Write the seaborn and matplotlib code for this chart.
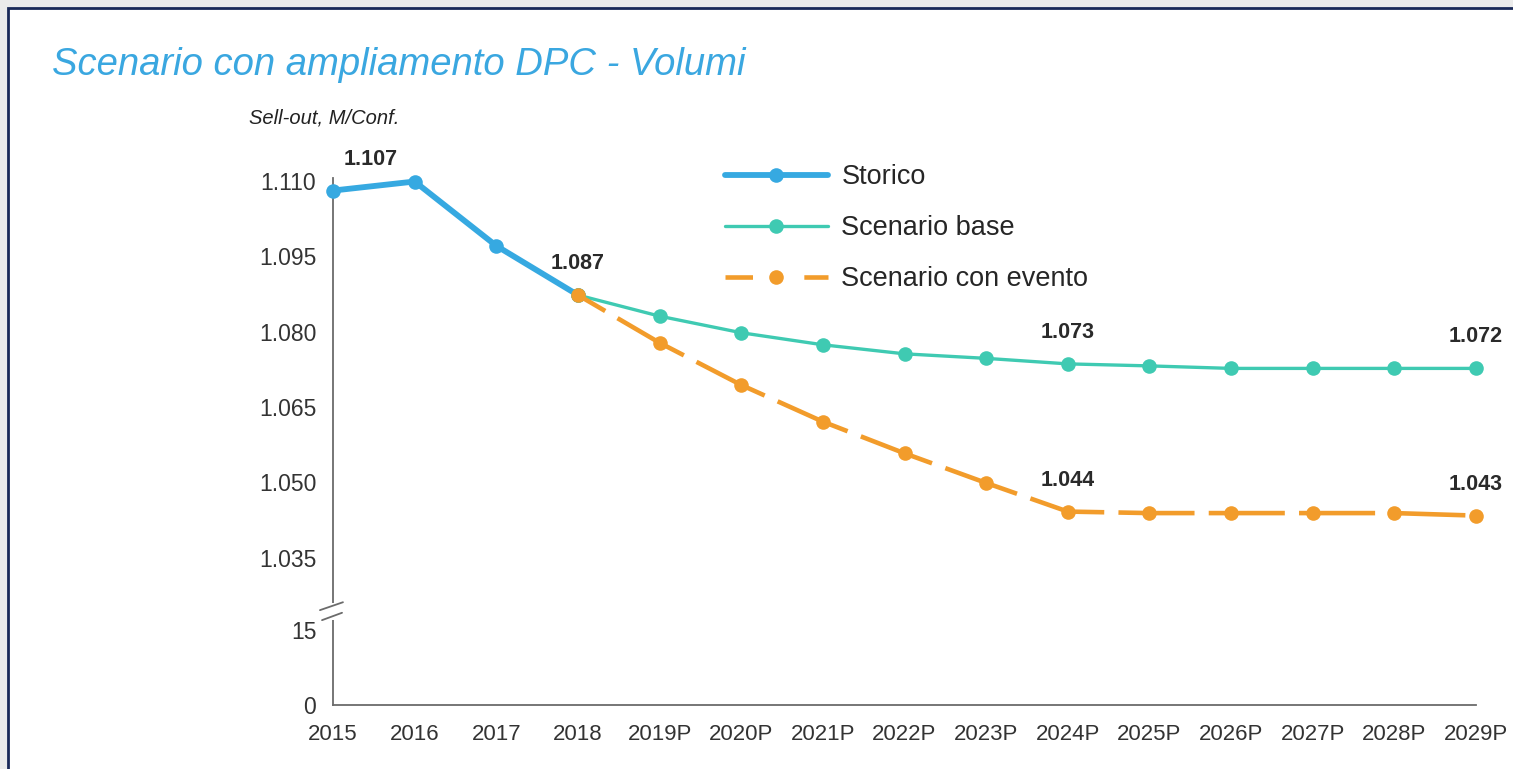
"""Scenario con ampliamento DPC - Volumi: broken y-axis line chart."""
import matplotlib
matplotlib.use("Agg")
import matplotlib.pyplot as plt
from matplotlib.lines import Line2D
from matplotlib.patches import Rectangle
import numpy as np
import seaborn as sns

# ---- data (Sell-out, thousand units -> shown as M/Conf. with Italian separator)
years = ["2015", "2016", "2017", "2018", "2019P", "2020P", "2021P", "2022P",
         "2023P", "2024P", "2025P", "2026P", "2027P", "2028P", "2029P"]
storico = [1108.1, 1109.9, 1097.1, 1087.3]
scenario_base = [1087.3, 1083.1, 1079.8, 1077.4, 1075.6, 1074.7, 1073.6,
                 1073.2, 1072.7, 1072.7, 1072.7, 1072.7]
scenario_evento = [1087.3, 1077.8, 1069.4, 1062.1, 1055.8, 1049.9, 1044.2,
                   1043.9, 1043.9, 1043.9, 1043.9, 1043.4]
y_ticks = [0, 15, 1035, 1050, 1065, 1080, 1095, 1110]

# data labels shown on the chart
label_series = ["storico", "storico", "base", "evento", "base", "evento"]
label_years = ["2015", "2018", "2024P", "2024P", "2029P", "2029P"]
label_texts = ["1.107", "1.087", "1.073", "1.044", "1.072", "1.043"]

series_names = ["Storico", "Scenario base", "Scenario con evento"]

C_STO = "#36a9e1"
C_BASE = "#3fcab2"
C_EVT = "#f29c2b"
C_TITLE = "#3aa7e0"

# ---- broken axis scale: 0..15 linear, gap compressed, 1035.. linear
GAP_LO, GAP_HI, GAP_T = 15.0, 1035.0, 14.3


def fwd(v):
    v = np.asarray(v, dtype=float)
    mid = GAP_LO + (v - GAP_LO) * GAP_T / (GAP_HI - GAP_LO)
    return np.where(v <= GAP_LO, v, np.where(v >= GAP_HI, v - GAP_HI + GAP_LO + GAP_T, mid))


def inv(u):
    u = np.asarray(u, dtype=float)
    mid = GAP_LO + (u - GAP_LO) * (GAP_HI - GAP_LO) / GAP_T
    return np.where(u <= GAP_LO, u,
                    np.where(u >= GAP_LO + GAP_T, u - GAP_LO - GAP_T + GAP_HI, mid))


def fmt_it(v):
    return f"{v / 1000:.3f}" if v >= 1000 else f"{int(v)}"


sns.set_theme(style="white")
plt.rcParams['font.family'] = ['Liberation Sans', 'DejaVu Sans']

W, H = 1513, 769
fig = plt.figure(figsize=(W / 100, H / 100), dpi=100)
fig.patch.set_facecolor("#ebebeb")
fig.add_artist(Rectangle((8 / W, -0.05), 1.1, 1 - 8 / H + 0.05,
                         transform=fig.transFigure, facecolor="white",
                         edgecolor="#1a2958", lw=2.0, zorder=-5))

ax = fig.add_axes([333 / W, 64 / H, (1476 - 333) / W, (705 - 178) / H])
ax.set_facecolor("none")
ax.set_yscale("function", functions=(fwd, inv))

x_all = np.arange(len(years))
x_sto = x_all[:len(storico)]
x_fc = x_all[len(storico) - 1:]

sns.lineplot(x=x_sto, y=storico, ax=ax, color=C_STO, lw=4.2, marker="o",
             ms=10.5, markeredgewidth=0, clip_on=False, zorder=3)
sns.lineplot(x=x_fc, y=scenario_base, ax=ax, color=C_BASE, lw=2.4, marker="o",
             ms=10.5, markeredgewidth=0, clip_on=False, zorder=3)
sns.lineplot(x=x_fc, y=scenario_evento, ax=ax, color=C_EVT, lw=3.3, marker="o",
             ms=10.5, markeredgewidth=0, clip_on=False, zorder=4,
             linestyle=(9.7, (16.6, 3.1)))

ax.set_xlim(0, len(years) - 1)
ax.set_ylim(0, 1110.6)
ax.set_xticks(x_all)
ax.set_xticklabels(years)
ax.set_yticks(y_ticks)
ax.set_yticklabels([fmt_it(v) for v in y_ticks])
ax.minorticks_off()
ax.tick_params(axis="both", length=0, labelcolor="#333333")
ax.tick_params(axis="y", pad=12, labelsize=16.5)
ax.tick_params(axis="x", pad=14, labelsize=16)
ax.set_xlabel("")
ax.set_ylabel("")
ax.grid(False)
for s in ["top", "right"]:
    ax.spines[s].set_visible(False)
for s in ["left", "bottom"]:
    ax.spines[s].set_color("#6b6b6b")
    ax.spines[s].set_linewidth(1.3)

# axis break marks
ax.add_patch(Rectangle((-0.004, 0.161), 0.008, 0.033, transform=ax.transAxes,
                       facecolor="white", edgecolor="none", clip_on=False, zorder=5))
ax.plot([-0.0114, 0.0087], [0.180, 0.195], transform=ax.transAxes,
        color="#6b6b6b", lw=1.3, clip_on=False, zorder=6)
ax.plot([-0.0096, 0.0079], [0.161, 0.175], transform=ax.transAxes,
        color="#6b6b6b", lw=1.3, clip_on=False, zorder=6)

# data labels
lookup = {
    "storico": dict(zip(years[:len(storico)], storico)),
    "base": dict(zip(years[len(storico) - 1:], scenario_base)),
    "evento": dict(zip(years[len(storico) - 1:], scenario_evento)),
}
for ser, yr, txt in zip(label_series, label_years, label_texts):
    dx = 38 if yr == years[0] else 0
    ax.annotate(txt, xy=(years.index(yr), lookup[ser][yr]),
                xytext=(dx, 26), textcoords="offset pixels",
                ha="center", va="baseline", fontsize=15.5,
                fontweight="bold", color="#2a2a2a", annotation_clip=False)

# legend
handles = [
    Line2D([], [], color=C_STO, lw=4.2, marker="o", ms=10.5, mew=0),
    Line2D([], [], color=C_BASE, lw=2.4, marker="o", ms=10.5, mew=0),
    Line2D([], [], color=C_EVT, lw=3.3, marker="o", ms=10.5, mew=0,
           linestyle=(0, (6.0, 5.0, 1.2, 5.0))),
]
ax.legend(handles, series_names, loc="upper left",
          bbox_to_anchor=(725 / W, 1 - 164 / H), bbox_transform=fig.transFigure,
          frameon=False, fontsize=19.5, handlelength=3.8, handletextpad=0.5,
          labelspacing=0.93, borderpad=0, borderaxespad=0)

# titles
fig.text(52 / W, 1 - 75 / H, "Scenario con ampliamento DPC - Volumi",
         color=C_TITLE, fontsize=27.5, style="italic", ha="left", va="baseline")
fig.text(249 / W, 1 - 124 / H, "Sell-out, M/Conf.", color="#222222",
         fontsize=14.5, style="italic", ha="left", va="baseline")

fig.savefig("out.png", dpi=100)
